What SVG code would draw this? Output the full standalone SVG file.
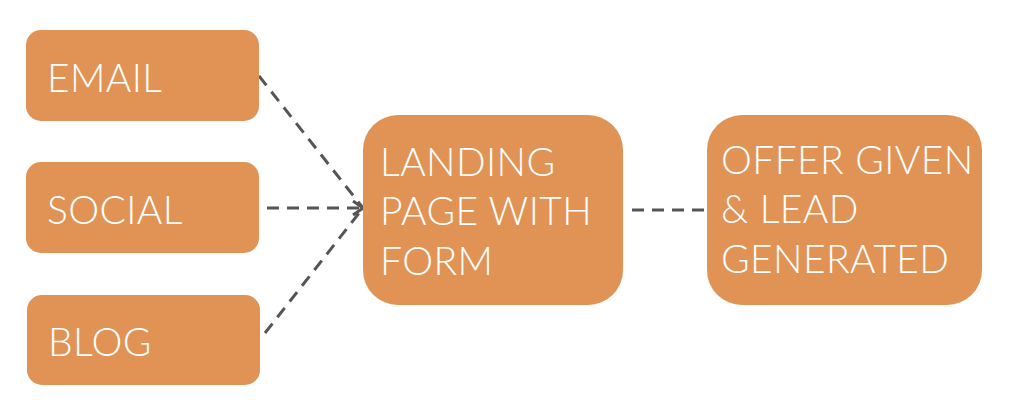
<svg xmlns="http://www.w3.org/2000/svg" width="1024" height="407" viewBox="0 0 1024 407">
<style>
.box{fill:#E09354;}
.t{font-family:Lato,"Open Sans","Liberation Sans",sans-serif;font-weight:300;font-size:39px;letter-spacing:0.4px;fill:#FFFFFF;}
.c{fill:none;stroke:#555555;stroke-width:3;stroke-dasharray:12 8;}
</style>
<defs>
<marker id="arr" viewBox="0 0 12 16" refX="11" refY="8" markerWidth="12" markerHeight="16" markerUnits="userSpaceOnUse" orient="auto">
<path d="M1,1 L11,8 L1,15" fill="none" stroke="#555555" stroke-width="3"/>
</marker>
</defs>
<rect width="1024" height="407" fill="#FFFFFF"/>
<g id="connectors">
<path class="c" d="M259,76 L363,208"/>
<path class="c" d="M267,208 L363,208" marker-end="url(#arr)"/>
<path class="c" d="M265,333 L363,208"/>
<path class="c" d="M632,210 L707,210"/>
</g>
<g id="email">
<rect class="box" x="26" y="30" width="233" height="91" rx="15"/>
<text class="t" x="47" y="92">EMAIL</text>
</g>
<g id="social">
<rect class="box" x="26" y="162" width="233" height="91" rx="15"/>
<text class="t" x="47" y="224">SOCIAL</text>
</g>
<g id="blog">
<rect class="box" x="27" y="295" width="233" height="90" rx="15"/>
<text class="t" x="48" y="356">BLOG</text>
</g>
<g id="landing">
<rect class="box" x="363" y="115" width="260" height="190" rx="35"/>
<text class="t" x="380" y="176">LANDING</text>
<text class="t" x="380" y="225">PAGE WITH</text>
<text class="t" x="380" y="275">FORM</text>
</g>
<g id="offer">
<rect class="box" x="707" y="115" width="275" height="190" rx="35"/>
<text class="t" x="721" y="174">OFFER GIVEN</text>
<text class="t" x="721" y="223">&amp; LEAD</text>
<text class="t" x="721" y="273">GENERATED</text>
</g>
</svg>
